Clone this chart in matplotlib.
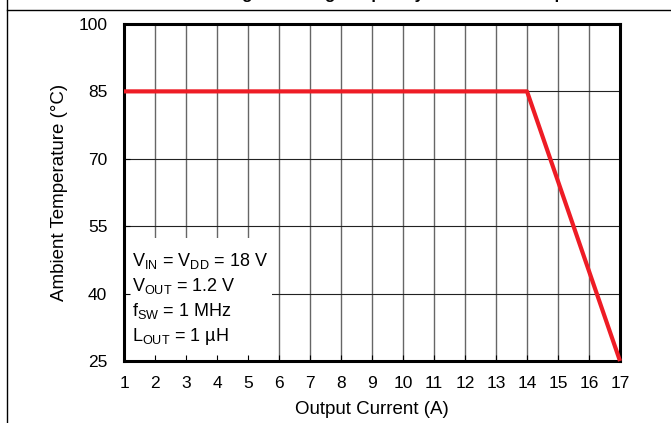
import matplotlib.pyplot as plt
from matplotlib.lines import Line2D
from matplotlib.patches import Rectangle

plt.rcParams['font.family'] = ['Liberation Sans', 'DejaVu Sans']
plt.rcParams['mathtext.fontset'] = 'custom'
plt.rcParams['mathtext.rm'] = 'Liberation Sans'

# ---
# Data
# ---
current = [1, 14, 17]
temperature = [85, 85, 25]

x_ticks = list(range(1, 18))
y_ticks = [25, 40, 55, 70, 85, 100]

conditions = [
    r"$\mathregular{V_{IN}}$ = $\mathregular{V_{DD}}$ = 18 V",
    r"$\mathregular{V_{OUT}}$ = 1.2 V",
    r"$\mathregular{f_{SW}}$ = 1 MHz",
    r"$\mathregular{L_{OUT}}$ = 1 µH",
]

# ---
# Figure
# ---
fig = plt.figure(figsize=(6.71, 4.23), dpi=100)
ax = fig.add_axes([0.1848, 0.1466, 0.924 - 0.1848, 0.9433 - 0.1466])

# outer frame lines of the figure panel
fig.add_artist(Line2D([7 / 671, 7 / 671], [0, 1], color='black', lw=1.0))
fig.add_artist(Line2D([7 / 671, 1], [1 - 10 / 423, 1 - 10 / 423], color='black', lw=1.0))
# title, cut off at the top (only descenders show)
fig.text(185 / 671, 1 + 1.5 / 423, "Derating Switching Frequency vs Ambient Temperature",
         fontsize=12, fontweight='bold', ha='left', va='baseline')

# grid
ax.vlines(x_ticks[1:-1], 25, 100, color='#666666', lw=1.0, zorder=1)
ax.hlines(y_ticks[1:-1], 1, 17, color='#222222', lw=0.8, zorder=1)

# white box behind the conditions text
ax.add_patch(Rectangle((1, 25), 4.77, 27.4, facecolor='white', edgecolor='none', zorder=1.2))
for i, line in enumerate(conditions):
    ax.text(1.25, 47.2 - i * 5.57, line, fontsize=13, ha='left', va='center', zorder=1.3)

ax.plot(current, temperature, color='#ee1c25', lw=3, solid_capstyle='butt', zorder=3, clip_on=False)

ax.set_xlim(1, 17)
ax.set_ylim(25, 100)
ax.set_xticks(x_ticks)
ax.set_yticks(y_ticks)
ax.tick_params(direction='in', length=4, width=0.8, labelsize=12.5)
ax.tick_params(axis='x', pad=11)
ax.tick_params(axis='y', pad=12)
for s in ax.spines.values():
    s.set_linewidth(2.2)

ax.set_xlabel("Output Current (A)", fontsize=13.5)
ax.set_ylabel("Ambient Temperature (°C)", fontsize=13.5)
ax.xaxis.set_label_coords(0.5, -0.12)
ax.yaxis.set_label_coords(-0.113, 0.5)

fig.savefig("out.png", dpi=100)
